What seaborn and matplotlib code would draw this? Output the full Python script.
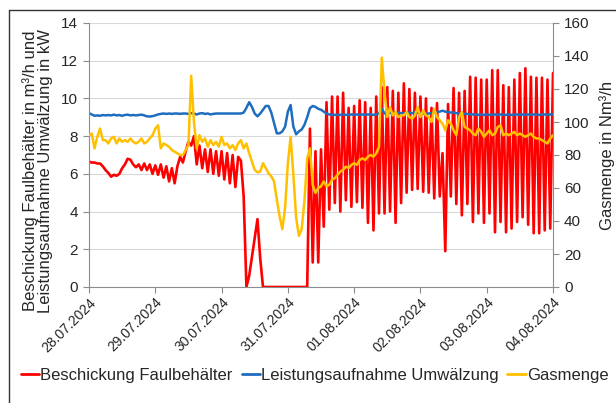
import pandas as pd
import numpy as np
import matplotlib
matplotlib.use("Agg")
import matplotlib.pyplot as plt
import matplotlib.dates as mdates
from matplotlib.lines import Line2D
import seaborn as sns

# hourly readings 28.07.2024 00:00 .. 04.08.2024 00:00
start = "2024-07-28 00:00"
n_hours = 169

# Beschickung Faulbehälter in m³/h
beschickung = [
    6.65, 6.6, 6.6, 6.55, 6.55, 6.4, 6.2, 6.05, 5.85, 5.95,
    5.9, 6.0, 6.3, 6.5, 6.8, 6.75, 6.5, 6.35, 6.5, 6.2,
    6.55, 6.2, 6.5, 6.0, 6.45, 5.95, 6.5, 5.8, 6.4, 5.6,
    6.3, 5.5, 6.4, 6.9, 6.6, 7.2, 7.7, 7.5, 8.0, 6.5,
    7.5, 6.3, 7.3, 6.1, 7.3, 6.0, 7.2, 5.9, 7.2, 5.7,
    7.1, 5.5, 7.0, 5.3, 6.9, 6.7, 4.8, 0.0, 0.6, 1.6,
    2.6, 3.6, 1.5, 0.0, 0.0, 0.0, 0.0, 0.0, 0.0, 0.0,
    0.0, 0.0, 0.0, 0.0, 0.0, 0.0, 0.0, 0.0, 0.0, 0.0,
    8.4, 1.3, 7.2, 1.3, 7.3, 3.2, 9.8, 4.1, 10.1, 4.45,
    10.1, 4.0, 10.3, 4.6, 9.5, 4.25, 9.6, 4.5, 9.9, 4.2,
    9.8, 3.4, 9.5, 3.0, 10.1, 3.9, 10.6, 3.9, 10.6, 4.0,
    10.4, 3.4, 10.3, 4.45, 10.8, 5.0, 10.5, 5.15, 10.3, 5.2,
    10.1, 5.05, 10.0, 5.0, 9.5, 4.7, 9.75, 4.8, 7.1, 1.9,
    9.7, 4.8, 10.55, 4.4, 10.3, 3.8, 10.4, 4.4, 11.15, 3.45,
    11.1, 3.9, 11.0, 3.4, 11.0, 3.9, 11.5, 2.9, 11.5, 3.45,
    10.7, 2.9, 10.6, 3.1, 11.0, 3.45, 11.35, 3.7, 11.6, 3.3,
    11.15, 2.85, 11.1, 2.85, 11.1, 3.0, 11.0, 3.1, 11.35,
]

# Leistungsaufnahme Umwälzung in kW
leistung = [
    9.22, 9.15, 9.08, 9.10, 9.08, 9.12, 9.10, 9.12, 9.10, 9.14,
    9.10, 9.12, 9.08, 9.12, 9.14, 9.10, 9.12, 9.10, 9.12, 9.14,
    9.10, 9.05, 9.04, 9.06, 9.10, 9.15, 9.18, 9.20, 9.18, 9.20,
    9.18, 9.20, 9.20, 9.18, 9.20, 9.20, 9.18, 9.22, 9.20, 9.15,
    9.20, 9.22, 9.18, 9.20, 9.15, 9.18, 9.20, 9.20, 9.20, 9.20,
    9.20, 9.20, 9.20, 9.20, 9.20, 9.20, 9.25, 9.50, 9.80, 9.55,
    9.20, 9.05, 9.20, 9.40, 9.60, 9.60, 9.25, 8.70, 8.15, 8.15,
    8.25, 8.50, 9.30, 9.65, 8.50, 8.10, 8.25, 8.35, 8.60, 9.00,
    9.48, 9.60, 9.55, 9.45, 9.40, 9.30, 9.20, 9.15, 9.13, 9.13,
    9.13, 9.13, 9.15, 9.13, 9.13, 9.15, 9.13, 9.15, 9.13, 9.15,
    9.13, 9.15, 9.15, 9.13, 9.15, 9.20, 9.45, 9.20, 9.25, 9.22,
    9.25, 9.22, 9.25, 9.22, 9.20, 9.25, 9.25, 9.22, 9.25, 9.22,
    9.22, 9.20, 9.18, 9.20, 9.22, 9.25, 9.28, 9.30, 9.35, 9.30,
    9.28, 9.25, 9.25, 9.22, 9.20, 9.20, 9.18, 9.18, 9.15, 9.15,
    9.15, 9.13, 9.15, 9.13, 9.15, 9.13, 9.13, 9.15, 9.13, 9.15,
    9.13, 9.13, 9.15, 9.13, 9.13, 9.15, 9.13, 9.15, 9.13, 9.15,
    9.13, 9.15, 9.15, 9.13, 9.15, 9.15, 9.13, 9.15, 9.15,
]

# Gasmenge in Nm³/h
gasmenge = [
    92, 93, 84, 91, 96, 89, 89, 87, 90, 91,
    87, 90, 88, 89, 88, 90, 88, 87, 88, 90,
    87, 88, 90, 92, 96, 98, 84, 87, 86, 85,
    83, 82, 81, 80, 80, 83, 86, 128, 100, 84,
    92, 88, 90, 85, 89, 86, 88, 85, 91, 86,
    87, 84, 86, 83, 87, 89, 84, 87, 81, 76,
    71, 69.5, 70, 75, 72, 69, 67, 64, 53, 43,
    35, 48, 75, 91, 68, 42, 31, 35, 52, 78,
    84, 62, 57, 60, 61, 64, 61, 62, 65, 66,
    68, 70, 71, 73, 72, 74, 75, 74, 77, 78,
    77, 79, 80, 79, 81, 85, 139, 118, 103, 109,
    104, 106, 103, 104, 104, 106, 103, 102, 104, 109,
    103, 107, 104, 103, 100, 108, 103, 101, 99, 95,
    101, 99, 95, 92, 103, 106, 97, 96, 95, 93,
    92, 96, 94, 91, 93, 95, 92, 93, 97, 98,
    92, 93, 92, 93, 94, 92, 93, 92, 91, 92,
    93, 91, 90, 90, 89, 88, 87, 90, 92,
]

labels = ["Beschickung Faulbehälter", "Leistungsaufnahme Umwälzung", "Gasmenge"]
colors = ["#FF0000", "#1F6DBE", "#FFC000"]

zeit = pd.date_range(start, periods=n_hours, freq="h")
df = pd.DataFrame({"zeit": zeit, "beschickung": beschickung,
                   "leistung": leistung, "gasmenge": gasmenge})

sns.set_style("white")
plt.rcParams["font.family"] = ["Liberation Sans", "DejaVu Sans"]
text_col = "#262626"
axis_col = "#8C8C8C"

fig = plt.figure(figsize=(6.16, 4.03), dpi=100)
ax = fig.add_axes([89 / 616, 1 - 287 / 403, 464 / 616, 264 / 403])
ax2 = ax.twinx()

sns.lineplot(data=df, x="zeit", y="beschickung", ax=ax, color=colors[0],
             linewidth=1.9, legend=False)
sns.lineplot(data=df, x="zeit", y="leistung", ax=ax, color=colors[1],
             linewidth=1.8, legend=False)
sns.lineplot(data=df, x="zeit", y="gasmenge", ax=ax2, color=colors[2],
             linewidth=1.8, legend=False)

ax.set_ylim(0, 14)
ax.set_yticks(np.arange(0, 15, 2))
ax2.set_ylim(0, 160)
ax2.set_yticks(np.arange(0, 161, 20))
ax.set_xlim(zeit[0], zeit[-1])
ax.xaxis.set_major_locator(mdates.DayLocator())
ax.xaxis.set_major_formatter(mdates.DateFormatter("%d.%m.%Y"))

ax.grid(axis="y", color="#D9D9D9", linewidth=0.8)
ax.grid(axis="x", visible=False)
ax2.grid(False)
ax.set_axisbelow(True)

for a in (ax, ax2):
    for s in a.spines.values():
        s.set_visible(False)
ax.spines["left"].set_visible(True)
ax.spines["left"].set_color(axis_col)
ax.spines["bottom"].set_visible(True)
ax.spines["bottom"].set_color(axis_col)
ax2.spines["right"].set_visible(True)
ax2.spines["right"].set_color(axis_col)

ax.tick_params(axis="y", direction="out", length=4, color=axis_col,
               labelsize=11, labelcolor=text_col, pad=4, left=True)
ax.tick_params(axis="x", direction="out", length=4, color=axis_col,
               labelsize=10, labelcolor=text_col, pad=2, bottom=True)
ax2.tick_params(axis="y", direction="out", length=4, color=axis_col,
                labelsize=11, labelcolor=text_col, pad=4, right=True)
for lab in ax.get_xticklabels():
    lab.set_rotation(45)
    lab.set_ha("right")
    lab.set_va("top")
    lab.set_rotation_mode("anchor")

ax.set_xlabel("")
ax.set_ylabel("Beschickung Faulbehälter in m³/h und\nLeistungsaufnahme Umwälzung in kW",
              fontsize=12, color=text_col, linespacing=1.0)
ax.yaxis.set_label_coords(-0.078, 0.44)
ax2.set_ylabel("Gasmenge in Nm³/h", fontsize=12, color=text_col)
ax2.yaxis.set_label_coords(1.1, 0.5)

handles = [Line2D([0], [0], color=c, linewidth=2) for c in colors]
fig.legend(handles, labels, loc="center", bbox_to_anchor=(0.5106, 0.069),
           ncol=3, frameon=False, fontsize=12, handlelength=1.1,
           handletextpad=0.05, columnspacing=0.55, labelcolor=text_col,
           borderpad=0.2)

# outer frame of the exported chart
fig.add_artist(Line2D([9 / 616, 9 / 616], [0, 1 - 10 / 403], color="#333333",
                      linewidth=1.0, transform=fig.transFigure))
fig.add_artist(Line2D([9 / 616, 1], [1 - 10 / 403, 1 - 10 / 403], color="#333333",
                      linewidth=1.0, transform=fig.transFigure))

fig.savefig("out.png", dpi=100)
